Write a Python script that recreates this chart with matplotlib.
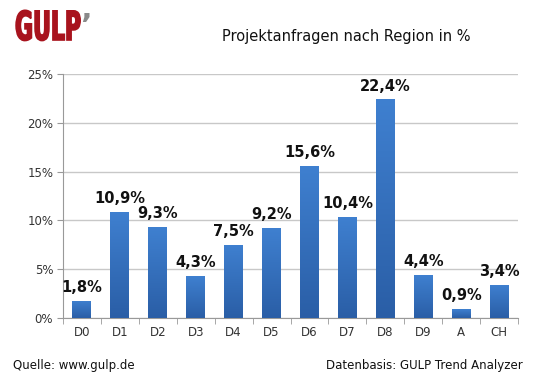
import matplotlib
matplotlib.use("Agg")
import matplotlib.pyplot as plt
import numpy as np
from matplotlib.textpath import TextPath
from matplotlib.patches import PathPatch
from matplotlib.font_manager import FontProperties
from matplotlib.transforms import Affine2D

regions = ["D0", "D1", "D2", "D3", "D4", "D5", "D6", "D7", "D8", "D9", "A", "CH"]
shares = [1.8, 10.9, 9.3, 4.3, 7.5, 9.2, 15.6, 10.4, 22.4, 4.4, 0.9, 3.4]
yticks = [0, 5, 10, 15, 20, 25]

plt.rcParams['font.family'] = ['DejaVu Sans']

fig = plt.figure(figsize=(5.38, 3.76), dpi=100)
ax = fig.add_axes([0.117, 0.154, 0.846, 0.649])

x = np.arange(len(regions))
bars = ax.bar(x, shares, width=0.5, color="#3470c0", zorder=3)

# vertical gradient on each bar (lighter at top)
grad = np.linspace(0, 1, 256).reshape(-1, 1)
cmap = matplotlib.colors.LinearSegmentedColormap.from_list("b", ["#2a5ea6", "#3f80d0"])
for b in bars:
    bx, by = b.get_x(), b.get_y()
    w, h = b.get_width(), b.get_height()
    im = ax.imshow(grad, extent=[bx, bx + w, by, by + h], origin="lower",
                   cmap=cmap, aspect="auto", zorder=4)
    im.set_clip_path(b)

for xi, v in zip(x, shares):
    ax.text(xi, v + 0.6, f"{v:.1f}%".replace(".", ","), ha="center", va="bottom",
            fontsize=10.5, fontweight="bold", color="#111111", zorder=5)

ax.set_xlim(-0.5, len(regions) - 0.5)
ax.set_ylim(0, 25)
ax.set_yticks(yticks)
ax.set_yticklabels([f"{t}%" for t in yticks], fontsize=8.5, color="#333333")
ax.set_xticks(x)
ax.set_xticklabels(regions, fontsize=8.5, color="#333333")
ax.set_xticks(np.arange(-0.5, len(regions), 1), minor=True)
ax.tick_params(axis="x", which="major", length=0, pad=6)
ax.tick_params(axis="x", which="minor", length=4, color="#999999")
ax.tick_params(axis="y", length=4, color="#999999", pad=3)
ax.yaxis.grid(True, color="#c8c8c8", linewidth=1, zorder=0)
for s in ["top", "right"]:
    ax.spines[s].set_visible(False)
ax.spines["left"].set_color("#999999")
ax.spines["bottom"].set_color("#999999")

# condensed "GULP" logo drawn as a squeezed text path (pixel coords)
logo = TextPath((0, 0), "GULP", size=40, prop=FontProperties(family="DejaVu Sans", weight="bold"))
tr = Affine2D().scale(0.55, 1.0).translate(15, 376 - 40)
fig.patches.append(PathPatch(logo, transform=tr, facecolor="#a8131d",
                             edgecolor="#a8131d", linewidth=1.2))
fig.text(0.148, 0.93, "\u2019", fontsize=22, fontweight="bold", color="#8a8a8a",
         ha="left", va="center")

fig.text(0.643, 0.902, "Projektanfragen nach Region in %", fontsize=10.5,
         ha="center", va="center", color="#111111")
fig.text(0.024, 0.027, "Quelle: www.gulp.de", fontsize=8.5, color="#111111",
         ha="left", va="center")
fig.text(0.972, 0.027, "Datenbasis: GULP Trend Analyzer", fontsize=8.5,
         color="#111111", ha="right", va="center")

fig.savefig("out.png", dpi=100)
